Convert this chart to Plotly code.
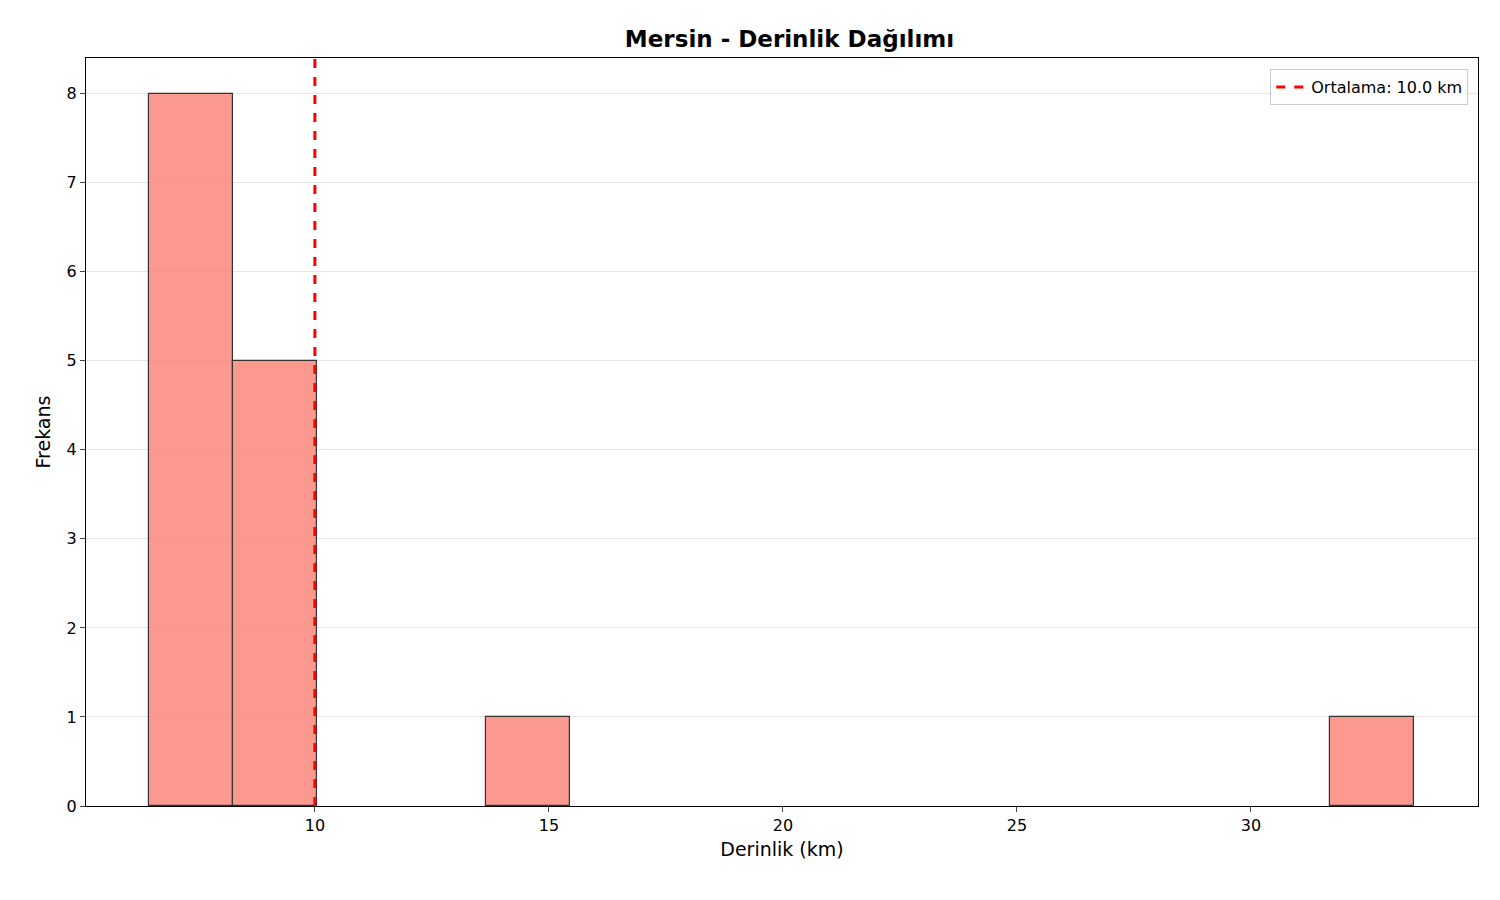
import numpy as np
import plotly.graph_objects as go

bin_min = 6.45
bin_max = 33.48
counts = [8, 5, 0, 0, 1, 0, 0, 0, 0, 0, 0, 0, 0, 0, 1]
mean_depth = 10.0

edges = np.linspace(bin_min, bin_max, len(counts) + 1)
centers = (edges[:-1] + edges[1:]) / 2
width = edges[1] - edges[0]
plot_counts = [c if c > 0 else None for c in counts]

fig = go.Figure()
fig.add_trace(go.Bar(x=centers, y=plot_counts, width=width,
                     marker=dict(color="rgba(250,128,114,0.8)", line=dict(color="#333333", width=1.2)),
                     showlegend=False))
fig.add_trace(go.Scatter(x=[mean_depth, mean_depth], y=[0, 8.4], mode="lines",
                         line=dict(color="red", width=3, dash="dash"),
                         name=f"Ortalama: {mean_depth:.1f} km"))
fig.update_layout(
    width=1500, height=900, plot_bgcolor="white", paper_bgcolor="white",
    margin=dict(l=78, r=30, t=50, b=102),
    font=dict(family="DejaVu Sans", size=16, color="black"),
    title=dict(text="<b>Mersin - Derinlik Dağılımı</b>", x=0.521, xanchor="center",
               y=0.975, yanchor="top", font=dict(size=23)),
    legend=dict(x=0.993, y=0.985, xanchor="right", yanchor="top", bordercolor="#cccccc", borderwidth=1,
                bgcolor="rgba(255,255,255,0.8)", font=dict(size=16)),
    bargap=0,
)
fig.update_xaxes(range=[5.11, 34.85], tickvals=[10, 15, 20, 25, 30], showgrid=False,
                 showline=True, linecolor="black", mirror=True, ticks="outside", ticklen=5,
                 title=dict(text="Derinlik (km)", font=dict(size=19), standoff=8), zeroline=False)
fig.update_yaxes(range=[0, 8.4], dtick=1, showgrid=True, gridcolor="rgba(0,0,0,0.1)",
                 showline=True, linecolor="black", mirror=True, ticks="outside", ticklen=5,
                 title=dict(text="Frekans", font=dict(size=19), standoff=10), zeroline=False)
fig.write_html("out.html")
